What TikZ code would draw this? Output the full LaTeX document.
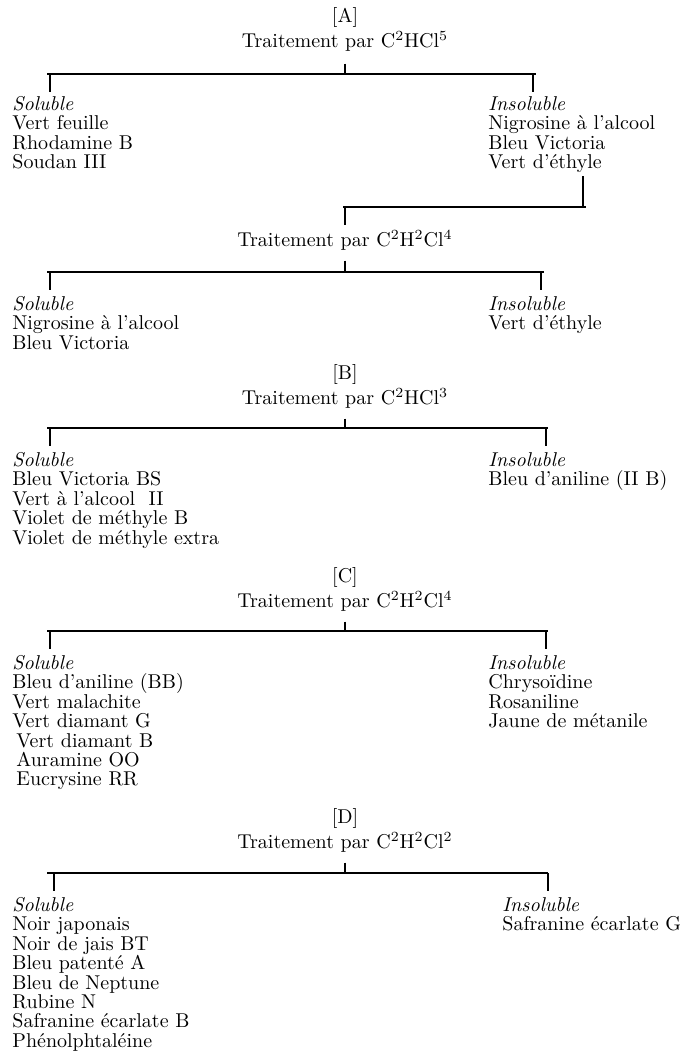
\documentclass[tikz,border=0pt]{standalone}
\usepackage{fontspec}
\usepackage{tikz}
\usetikzlibrary{positioning}

\tikzset{
  titre/.style={inner sep=0pt, font=\fontsize{10}{9.7}\selectfont},
  colonne/.style={align=left, anchor=north west, inner sep=0pt, font=\fontsize{10}{9.7}\selectfont},
  trait/.style={line width=0.8pt},
}

\begin{document}
\begin{tikzpicture}[x=0.5pt, y=-0.5pt]
  \useasboundingbox (0,0) rectangle (682,1055);

  % [A] : C2HCl5
  \node[titre] (trt1) at (345,41) {Traitement par C\textsuperscript{2}HCl\textsuperscript{5}};
  \node[titre, above=1pt of trt1] (lblA) {[A]};
  \coordinate (g1) at (47,74) ;
  \coordinate (d1) at (536,74) ;
  \draw[trait] (g1) -- (d1);
  \draw[trait] (trt1.south) ++(0,12) -- (trt1 |- g1);
  \draw[trait] (g1) ++(3,0) -- ++(0,18);
  \draw[trait] (d1) ++(-3,0) -- ++(0,18);
  \node[colonne] (sol1) at (12,96) {\textit{Soluble}\\Vert feuille\\Rhodamine B\\Soudan III};
  \node[colonne] (ins1) at (488,96) {\textit{Insoluble}\\Nigrosine à l'alcool\\Bleu Victoria\\Vert d'éthyle};

  % reprise de l'insoluble : C2H2Cl4
  \coordinate (v1) at (583,176) ;
  \coordinate (jd) at (586,207) ;
  \coordinate (jg) at (343,207) ;
  \draw[trait] (v1) -- (v1 |- jd);
  \draw[trait] (jg) -- (jd);
  \draw[trait] (jg) ++(2,0) -- ++(0,18);
  \node[titre] (trt2) at (345,240) {Traitement par C\textsuperscript{2}H\textsuperscript{2}Cl\textsuperscript{4}};
  \coordinate (g2) at (47,272) ;
  \coordinate (d2) at (544,272) ;
  \draw[trait] (g2) -- (d2);
  \draw[trait] (trt2.south) ++(0,10) -- (trt2 |- g2);
  \draw[trait] (g2) ++(3,0) -- ++(0,18);
  \draw[trait] (d2) ++(-3,0) -- ++(0,18);
  \node[colonne] (sol2) at (12,296) {\textit{Soluble}\\Nigrosine à l'alcool\\Bleu Victoria};
  \node[colonne] (ins2) at (488,296) {\textit{Insoluble}\\Vert d'éthyle};

  % [B] : C2HCl3
  \node[titre] (trt3) at (345,398) {Traitement par C\textsuperscript{2}HCl\textsuperscript{3}};
  \node[titre, above=1pt of trt3] (lblB) {[B]};
  \coordinate (g3) at (47,428) ;
  \coordinate (d3) at (548,428) ;
  \draw[trait] (g3) -- (d3);
  \draw[trait] (trt3.south) ++(0,10) -- (trt3 |- g3);
  \draw[trait] (g3) ++(3,0) -- ++(0,18);
  \draw[trait] (d3) ++(-2,0) -- ++(0,18);
  \node[colonne] (sol3) at (12,452) {\textit{Soluble}\\Bleu Victoria BS\\Vert à l'alcool~~II\\Violet de méthyle B\\Violet de méthyle extra};
  \node[colonne] (ins3) at (488,452) {\textit{Insoluble}\\Bleu d'aniline (II B)};

  % [C] : C2H2Cl4
  \node[titre] (trt4) at (345,601) {Traitement par C\textsuperscript{2}H\textsuperscript{2}Cl\textsuperscript{4}};
  \node[titre, above=1pt of trt4] (lblC) {[C]};
  \coordinate (g4) at (47,631) ;
  \coordinate (d4) at (548,631) ;
  \draw[trait] (g4) -- (d4);
  \draw[trait] (trt4.south) ++(0,10) -- (trt4 |- g4);
  \draw[trait] (g4) ++(3,0) -- ++(0,18);
  \draw[trait] (d4) ++(-2,0) -- ++(0,18);
  \node[colonne] (sol4) at (12,655) {\textit{Soluble}\\Bleu d'aniline (BB)\\Vert malachite\\Vert diamant G\\\hspace{2pt}Vert diamant B\\\hspace{2pt}Auramine OO\\\hspace{2pt}Eucrysine RR};
  \node[colonne] (ins4) at (488,655) {\textit{Insoluble}\\Chrysoïdine\\Rosaniline\\Jaune de métanile};

  % [D] : C2H2Cl2
  \node[titre] (trt5) at (345,842) {Traitement par C\textsuperscript{2}H\textsuperscript{2}Cl\textsuperscript{2}};
  \node[titre, above=1pt of trt5] (lblD) {[D]};
  \coordinate (g5) at (47,873) ;
  \coordinate (d5) at (548,873) ;
  \draw[trait] (g5) -- (d5);
  \draw[trait] (trt5.south) ++(0,10) -- (trt5 |- g5);
  \draw[trait] (g5) ++(7,0) -- ++(0,18);
  \draw[trait] (d5) ++(0,0) -- ++(0,18);
  \node[colonne] (sol5) at (12,897) {\textit{Soluble}\\Noir japonais\\Noir de jais BT\\Bleu patenté A\\Bleu de Neptune\\Rubine N\\Safranine écarlate B\\Phénolphtaléine};
  \node[colonne] (ins5) at (502,897) {\textit{Insoluble}\\Safranine écarlate G};

\end{tikzpicture}
\end{document}
